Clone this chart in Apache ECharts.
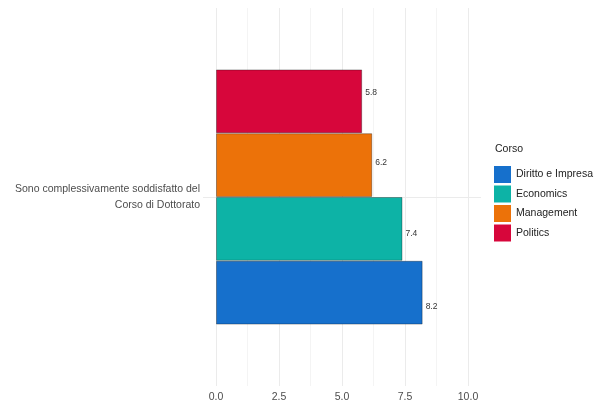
<!DOCTYPE html>
<html><head><meta charset="utf-8">
<script src="https://cdn.jsdelivr.net/npm/echarts@6/dist/echarts.min.js"></script>
<style>html,body{margin:0;padding:0;background:#fff}#c{width:596px;height:408px}</style>
</head><body><div id="c"></div>
<script>
const categories = ['Sono complessivamente soddisfatto del\nCorso di Dottorato'];
const courses = ['Diritto e Impresa', 'Economics', 'Management', 'Politics'];
const values = [8.2, 7.4, 6.2, 5.8];
const colors = ['#1670CC', '#0DB3A6', '#EC7209', '#D7063B'];
const xTicks = [0, 2.5, 5, 7.5, 10];
const legendTitle = 'Corso';

const labelShift = [14, 5, -2, -9];
const FONT = '"Liberation Sans", Arial, sans-serif';

const chart = echarts.init(document.getElementById('c'), null, {renderer: 'canvas'});

// ECharts places the first series at the top of a horizontal band, so add in reverse
const series = [];
for (let i = courses.length - 1; i >= 0; i--) {
  series.push({
    name: courses[i],
    type: 'bar',
    xAxisIndex: 0, yAxisIndex: 0,
    data: [values[i]],
    barGap: '0%',
    barCategoryGap: '32.5%',
    z: 3,
    itemStyle: {color: colors[i], borderColor: 'rgba(0,0,0,0.32)', borderWidth: 1},
    label: {
      show: true, position: 'right', distance: 3, offset: [0, labelShift[i]],
      formatter: p => p.value.toFixed(1),
      fontFamily: FONT, fontSize: 8.5, color: '#333'
    }
  });
}

series.push({
  type: 'line', xAxisIndex: 1, yAxisIndex: 1, data: [], silent: true, z: 0,
  markLine: {
    silent: true, symbol: 'none', z: 0,
    label: {show: false},
    lineStyle: {color: '#ebebeb', width: 1, type: 'solid'},
    data: [{yAxis: 0}]
  }
});

chart.setOption({
  animation: false,
  backgroundColor: '#fff',
  color: colors,
  grid: [
    {left: 216, right: 128, top: 8, bottom: 22},
    {left: 203, right: 115, top: 8, bottom: 22}
  ],
  xAxis: [
    {
      type: 'value', gridIndex: 0, min: xTicks[0], max: xTicks[xTicks.length - 1], interval: 2.5,
      axisLine: {show: false}, axisTick: {show: false},
      axisLabel: {margin: 6, color: '#4d4d4d', fontFamily: FONT, fontSize: 10.5, formatter: v => v.toFixed(1)},
      splitLine: {show: true, lineStyle: {color: '#ebebeb', width: 1}},
      minorTick: {show: false, splitNumber: 2},
      minorSplitLine: {show: true, lineStyle: {color: '#f4f4f4', width: 1}}
    },
    {type: 'value', gridIndex: 1, min: 0, max: 1, show: false}
  ],
  yAxis: [
    {
      type: 'category', gridIndex: 0, data: categories,
      axisLine: {show: false}, axisTick: {show: false}, splitLine: {show: false},
      axisLabel: {margin: 16, color: '#4d4d4d', fontFamily: FONT, fontSize: 10.5, lineHeight: 16,
        align: 'right', padding: [0, 0, 3, 0]}
    },
    {type: 'category', gridIndex: 1, data: categories, show: false}
  ],
  legend: {
    orient: 'vertical', left: 494, top: 166, padding: 0, itemWidth: 17, itemHeight: 17, itemGap: 2.5,
    icon: 'rect', data: courses,
    itemStyle: {borderWidth: 0},
    textStyle: {fontFamily: FONT, fontSize: 10.5, color: '#222'}
  },
  graphic: [{
    type: 'text', left: 495, top: 144,
    style: {text: legendTitle, fontFamily: FONT, fontSize: 10.5, fill: '#222'}
  }],
  series: series
});
</script></body></html>
